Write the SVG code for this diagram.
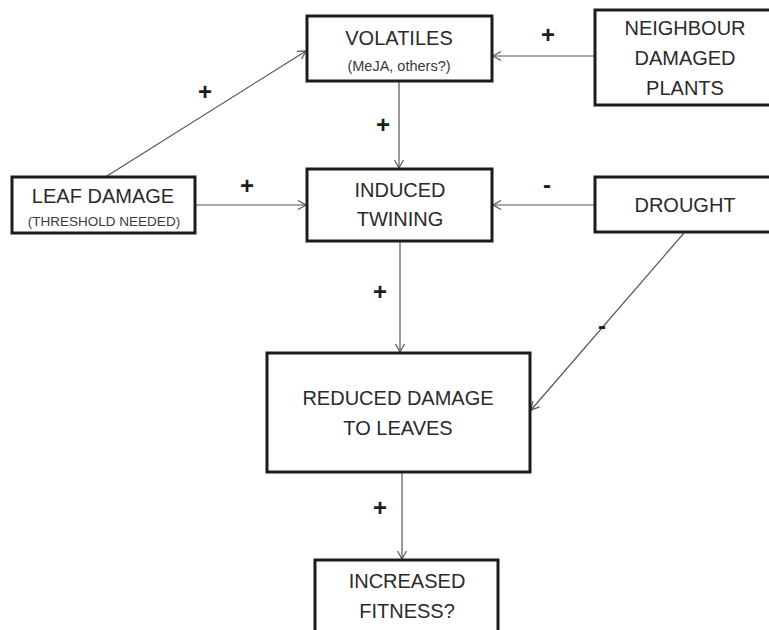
<svg xmlns="http://www.w3.org/2000/svg" width="769" height="630" viewBox="0 0 769 630">
<defs>
<marker id="arr" markerUnits="userSpaceOnUse" markerWidth="12" markerHeight="12" viewBox="0 0 12 12" refX="10" refY="6" orient="auto">
<path d="M2,1.5 L10,6 L2,10.5" fill="none" stroke="#555" stroke-width="1.2"/>
</marker>
</defs>
<style>
.box{fill:#fff;stroke:#1c1c1c;stroke-width:3}
.t{font-family:"Liberation Sans",Arial,sans-serif;font-size:20px;fill:#2a2a2a;text-anchor:middle}
.s{font-family:"Liberation Sans",Arial,sans-serif;font-size:13.5px;fill:#3a3a3a;text-anchor:middle}
.c{stroke:#555;stroke-width:1.2;fill:none;marker-end:url(#arr)}
.sg{font-family:"Liberation Sans",Arial,sans-serif;font-size:24px;font-weight:bold;fill:#1c1c1c;text-anchor:middle}
</style>
<rect width="769" height="630" fill="#fff"/>
<g id="connectors">
<line class="c" x1="107" y1="176" x2="306" y2="51"/>
<line class="c" x1="595" y1="56" x2="493" y2="56"/>
<line class="c" x1="399" y1="81" x2="399" y2="168"/>
<line class="c" x1="195" y1="205" x2="306" y2="205"/>
<line class="c" x1="595" y1="205" x2="493" y2="205"/>
<line class="c" x1="400" y1="241" x2="400" y2="352"/>
<line class="c" x1="684" y1="233" x2="531" y2="410"/>
<line class="c" x1="402" y1="472" x2="402" y2="559"/>
<text class="sg" x="205" y="100">+</text>
<text class="sg" x="548" y="43">+</text>
<text class="sg" x="383" y="133">+</text>
<text class="sg" x="247" y="194">+</text>
<text class="sg" x="547" y="193">-</text>
<text class="sg" x="380" y="300">+</text>
<text class="sg" x="602" y="334">-</text>
<text class="sg" x="380" y="516">+</text>
</g>
<g id="volatiles">
<rect class="box" x="307" y="16" width="185" height="65"/>
<text class="t" x="399" y="45">VOLATILES</text>
<text class="s" x="399" y="71" style="font-size:14.5px">(MeJA, others?)</text>
</g>
<g id="neighbour">
<rect class="box" x="595" y="10" width="185" height="95"/>
<text class="t" x="685" y="35">NEIGHBOUR</text>
<text class="t" x="685" y="65">DAMAGED</text>
<text class="t" x="685" y="95">PLANTS</text>
</g>
<g id="leafdamage">
<rect class="box" x="12" y="177" width="183" height="56"/>
<text class="t" x="103" y="203">LEAF DAMAGE</text>
<text class="s" x="104" y="226">(THRESHOLD NEEDED)</text>
</g>
<g id="twining">
<rect class="box" x="307" y="169" width="185" height="72"/>
<text class="t" x="400" y="197">INDUCED</text>
<text class="t" x="400" y="226">TWINING</text>
</g>
<g id="drought">
<rect class="box" x="595" y="177" width="185" height="55"/>
<text class="t" x="685" y="212">DROUGHT</text>
</g>
<g id="reduced">
<rect class="box" x="267" y="353" width="263" height="119"/>
<text class="t" x="398" y="405">REDUCED DAMAGE</text>
<text class="t" x="398" y="435">TO LEAVES</text>
</g>
<g id="fitness">
<rect class="box" x="315" y="560" width="183" height="80"/>
<text class="t" x="407" y="588">INCREASED</text>
<text class="t" x="407" y="618">FITNESS?</text>
</g>
</svg>
